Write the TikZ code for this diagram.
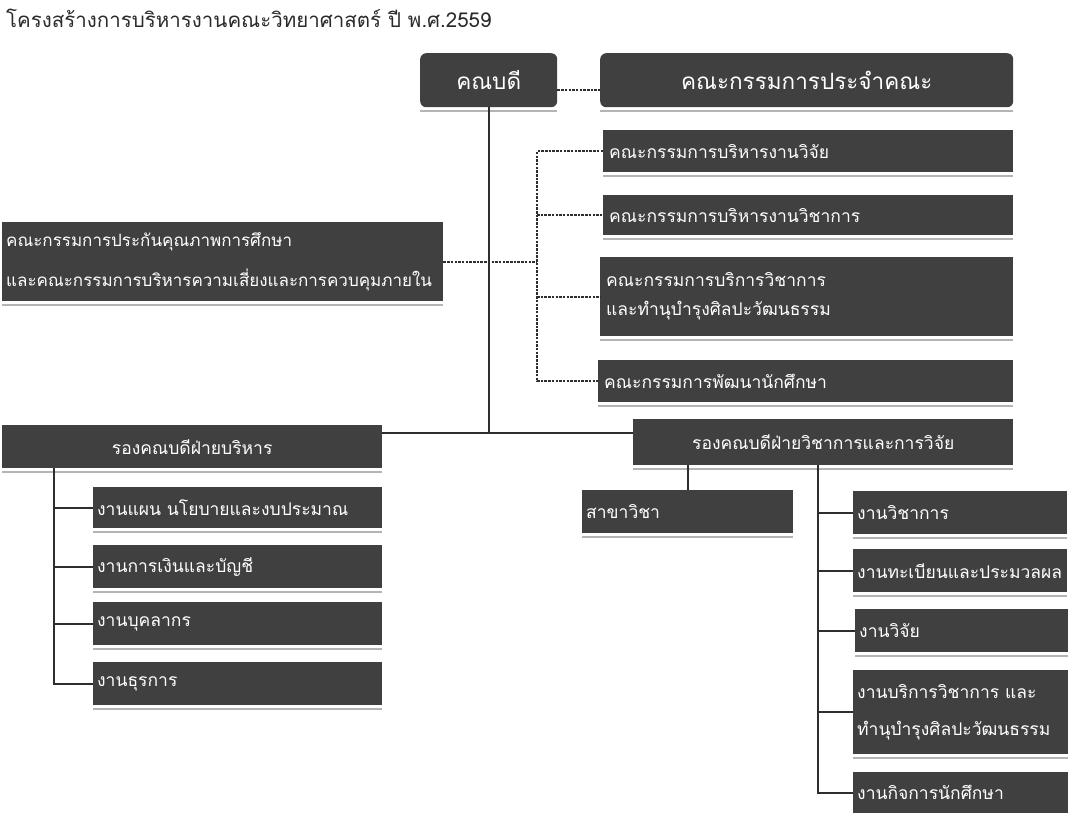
\documentclass[tikz,border=0pt]{standalone}
\usepackage{fontspec}
\newfontfamily\thai[Script=Thai]{Loma}
\definecolor{boxgray}{HTML}{404040}
\definecolor{linegray}{HTML}{2E2E2E}
\definecolor{shadowgray}{HTML}{B4B4B4}
\definecolor{titlegray}{HTML}{2A2A2A}
\begin{document}
\begin{tikzpicture}[x=1pt,y=-1pt,
  box/.style={fill=boxgray, text=white, draw=none, anchor=north west, inner xsep=6pt, inner ysep=0pt, font=\thai\fontsize{17.5}{20}\selectfont, align=left},
  rbox/.style={box, inner xsep=4pt},
  cbox/.style={box, align=center},
  topbox/.style={cbox, rounded corners=6pt, font=\thai\fontsize{22.5}{25}\selectfont},
  solidline/.style={draw=linegray, line width=2pt},
  dotline/.style={draw=linegray, line width=1.8pt, dash pattern=on 2.5pt off 1.2pt},
  shadowline/.style={draw=shadowgray, line width=2pt}]
\useasboundingbox (0,0) rectangle (1068,816);
\node[anchor=west, inner sep=0pt, text=titlegray, font=\thai\fontsize{20.5}{24}\selectfont] (title) at (6,18) {โครงสร้างการบริหารงานคณะวิทยาศาสตร์ ปี พ.ศ.2559};
% top
\node[topbox, minimum width=137pt, minimum height=54pt] (dean) at (420,53) {คณบดี};
\node[topbox, minimum width=413pt, minimum height=54pt] (board) at (600,53) {คณะกรรมการประจำคณะ};
% committees
\node[box, text width=398pt, minimum height=42pt] (c1) at (603,130) {คณะกรรมการบริหารงานวิจัย};
\node[box, text width=398pt, minimum height=40pt] (c2) at (603,195) {คณะกรรมการบริหารงานวิชาการ};
\node[box, text width=401pt, minimum height=79pt, font=\thai\fontsize{17.5}{29}\selectfont] (c3) at (600,257) {คณะกรรมการบริการวิชาการ\\และทำนุบำรุงศิลปะวัฒนธรรม};
\node[box, text width=403pt, minimum height=42pt] (c4) at (598,360) {คณะกรรมการพัฒนานักศึกษา};
\node[box, inner xsep=4pt, text width=433pt, minimum height=79pt, font=\thai\fontsize{17}{40}\selectfont] (qa) at (2,222) {คณะกรรมการประกันคุณภาพการศึกษา\\และคณะกรรมการบริหารความเสี่ยงและการควบคุมภายใน};
% vice deans
\node[cbox, minimum width=380pt, minimum height=43pt] (vpadmin) at (2,425) {รองคณบดีฝ่ายบริหาร};
\node[cbox, minimum width=380pt, minimum height=46pt] (vpacad) at (633,419) {รองคณบดีฝ่ายวิชาการและการวิจัย};
% admin units
\node[rbox, text width=281pt, minimum height=41pt] (a1) at (93,487) {งานแผน นโยบายและงบประมาณ};
\node[rbox, text width=281pt, minimum height=43pt] (a2) at (93,545) {งานการเงินและบัญชี};
\node[rbox, text width=281pt, minimum height=43pt] (a3) at (93,602) {งานบุคลากร};
\node[rbox, text width=281pt, minimum height=43pt] (a4) at (93,662) {งานธุรการ};
% academic units
\node[rbox, text width=203pt, minimum height=43pt] (dept) at (582,490) {สาขาวิชา};
\node[rbox, text width=206pt, minimum height=43pt] (r1) at (853,491) {งานวิชาการ};
\node[rbox, text width=206pt, minimum height=43pt] (r2) at (853,549) {งานทะเบียนและประมวลผล};
\node[rbox, text width=205pt, minimum height=43pt] (r3) at (855,609) {งานวิจัย};
\node[rbox, text width=207pt, minimum height=84pt, font=\thai\fontsize{17.5}{37}\selectfont] (r4) at (853,670) {งานบริการวิชาการ และ\\ทำนุบำรุงศิลปะวัฒนธรรม};
\node[rbox, text width=207pt, minimum height=41pt] (r5) at (853,772) {งานกิจการนักศึกษา};
% shadows
\foreach \n in {dean,board,c1,c2,c3,c4,qa,vpadmin,vpacad,a1,a2,a3,a4,dept,r1,r2,r3,r4} {
  \draw[shadowline] ([yshift=-4pt]\n.south west) -- ([yshift=-4pt]\n.south east);
}
% helper coordinates
\coordinate (ty) at (0,90);
\coordinate (hy) at (0,433);
\coordinate (bx) at (537,0);
\coordinate (lx) at (54,0);
\coordinate (rx) at (818,0);
\coordinate (dx) at (688,0);
% connectors
\draw[dotline] (dean.east |- ty) -- (board.west |- ty);
\draw[solidline] (dean.south) -- (dean.south |- hy);
\draw[solidline] (vpadmin.east |- hy) -- (vpacad.west |- hy);
\draw[dotline] (c1.west) -- (c1.west -| bx) -- (c4.west -| bx) -- (c4.west);
\draw[dotline] (c2.west -| bx) -- (c2.west);
\draw[dotline] (c3.west -| bx) -- (c3.west);
\draw[dotline] (qa.east) -- (qa.east -| bx);
\draw[solidline] (vpadmin.south -| lx) -- (a4.west -| lx) -- (a4.west);
\foreach \n in {a1,a2,a3} { \draw[solidline] (\n.west -| lx) -- (\n.west); }
\draw[solidline] (vpacad.south -| dx) -- (dept.north -| dx);
\draw[solidline] (vpacad.south -| rx) -- (r5.west -| rx) -- (r5.west);
\foreach \n in {r1,r2,r3,r4} { \draw[solidline] (\n.west -| rx) -- (\n.west); }
\end{tikzpicture}
\end{document}
